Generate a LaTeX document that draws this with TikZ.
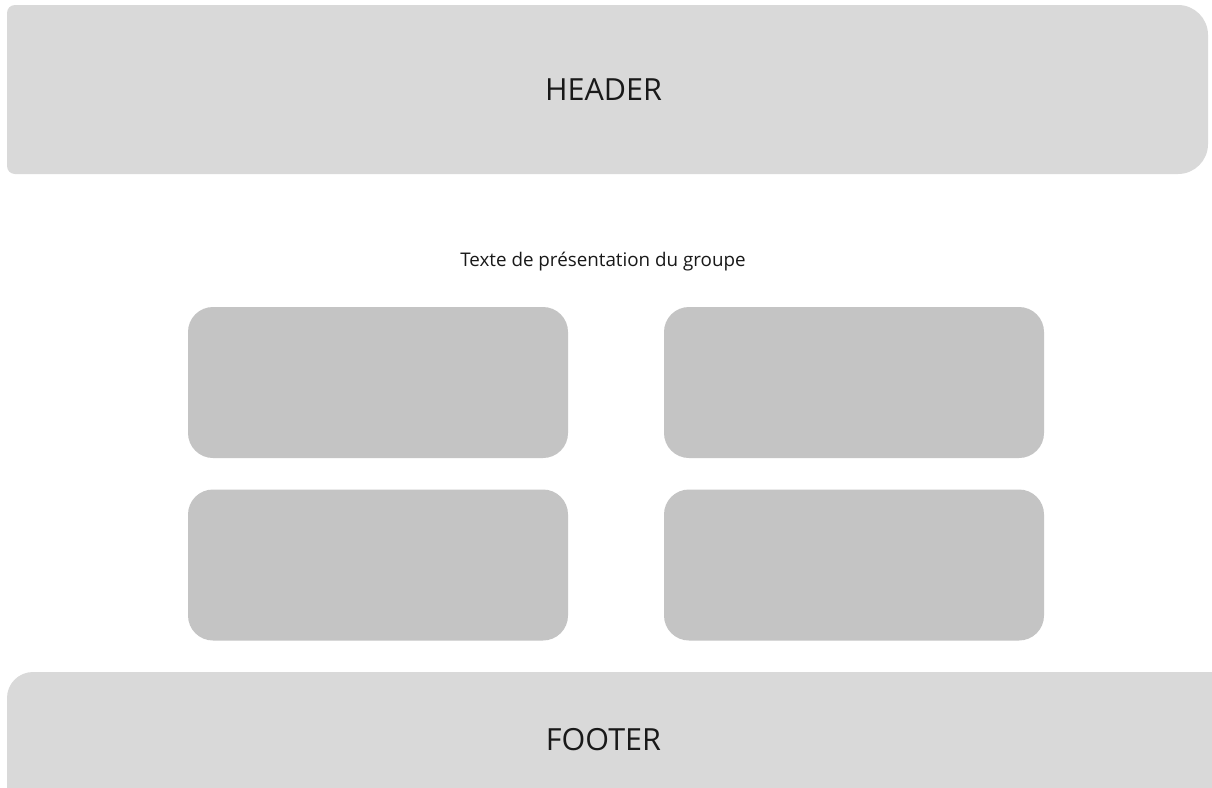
\documentclass[tikz,border=0pt]{standalone}
\usepackage{fontspec}
\setmainfont{Open Sans}
\definecolor{bandgray}{HTML}{D9D9D9}
\definecolor{cardgray}{HTML}{C4C4C4}
\begin{document}
\begin{tikzpicture}[
        x=1pt,
        y=-1pt,
        band/.style={fill=bandgray},
        card/.style={
            fill=cardgray,
            rounded corners=25pt,
            minimum width=380pt,
            minimum height=151pt,
            inner sep=0pt,
        },
        bandtext/.style={font=\fontsize{30.5}{36}\selectfont, text=black!90},
    ]
    \clip (0,0) rectangle (1212,787);
    \fill[white] (0,0) rectangle (1212,787);
    % header
    \fill[band]
        (7,90) [rounded corners=8pt] -- (7,5) [rounded corners=30pt] -- (1208,5)
        -- (1208,174) [rounded corners=8pt] -- (7,174) -- cycle;
    \node[bandtext] (header) at (603.5,90) {HEADER};
    % intro
    \node[font=\fontsize{18.8}{22}\selectfont, text=black!90] (intro) at (603,262)
        {Texte de présentation du groupe};
    % cards
    \node[card] (cardA) at (378,382.5) {};
    \node[card] (cardB) at (854,382.5) {};
    \node[card] (cardC) at (378,565) {};
    \node[card] (cardD) at (854,565) {};
    % footer
    \fill[band, rounded corners=26pt] (7,830) -- (7,672) -- (1240,672) -- (1240,830);
    \node[bandtext] (footer) at (603.5,740) {FOOTER};
\end{tikzpicture}
\end{document}
